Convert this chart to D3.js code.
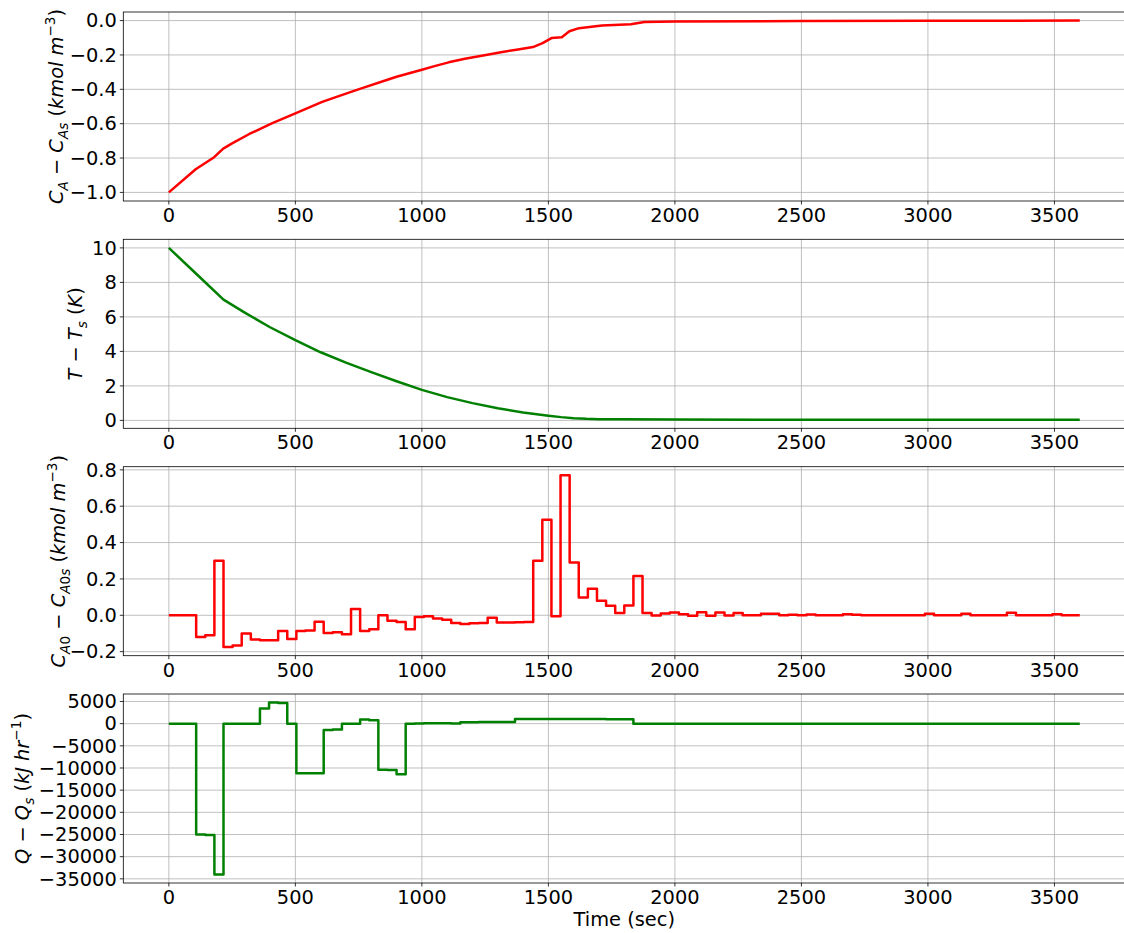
<!DOCTYPE html>
<html>
<head>
<meta charset="utf-8">
<script src="https://cdn.jsdelivr.net/npm/d3@7"></script>
<style>
  body { margin: 0; background: #fff; }
  svg { display: block; font-family: "DejaVu Sans", sans-serif; }
</style>
</head>
<body>
<svg id="chart" width="1124" height="933"></svg>
<script>
// concentration deviation
const caTime = [0, 106, 179, 215, 250, 318, 409, 500, 606, 700, 758, 864, 900, 1000, 1050, 1106, 1170, 1242, 1318, 1380, 1439, 1477, 1512, 1553, 1583, 1621, 1712, 1826, 1879, 2000, 2500, 3000, 3600];
const caValue = [-1.0, -0.865, -0.795, -0.745, -0.715, -0.66, -0.597, -0.54, -0.473, -0.425, -0.396, -0.344, -0.327, -0.286, -0.265, -0.243, -0.222, -0.203, -0.183, -0.168, -0.154, -0.131, -0.102, -0.097, -0.062, -0.044, -0.029, -0.021, -0.008, -0.006, -0.003, -0.001, 0.0];

// temperature deviation
const tTime = [0, 108, 216, 300, 400, 500, 600, 700, 800, 900, 1000, 1100, 1200, 1300, 1400, 1500, 1550, 1600, 1650, 1700, 1800, 2000, 2500, 3600];
const tValue = [10, 8.5, 7.0, 6.25, 5.4, 4.65, 3.95, 3.35, 2.8, 2.27, 1.77, 1.35, 1.0, 0.7, 0.46, 0.27, 0.19, 0.13, 0.09, 0.07, 0.06, 0.05, 0.04, 0.04];

// control moves, one value per 36 s interval
const stepSize = 36;
const endTime = 3600;
const ca0Steps = [
  0, 0, 0, -0.12, -0.11, 0.30, -0.175, -0.166, -0.10, -0.133,
  -0.137, -0.137, -0.087, -0.13, -0.087, -0.083, -0.035, -0.097, -0.093, -0.104,
  0.034, -0.087, -0.077, 0.0, -0.03, -0.037, -0.077, -0.009, -0.005, -0.018,
  -0.024, -0.042, -0.048, -0.044, -0.042, -0.013, -0.04, -0.039, -0.038, -0.037,
  0.30, 0.526, -0.005, 0.77, 0.29, 0.098, 0.146, 0.08, 0.052, 0.012,
  0.054, 0.216, 0.012, -0.001, 0.01, 0.015, 0.006, -0.003, 0.017, -0.003,
  0.015, -0.001, 0.012, 0, 0, 0.008, 0.008, 0, 0.003, 0,
  0.005, 0, 0, 0, 0.006, 0.003, 0, 0, 0, 0,
  0, 0, 0, 0.008, 0, 0, 0, 0.008, 0, 0,
  0, 0, 0.014, 0, 0, 0, 0, 0.006, 0, 0
];
const qSteps = [
  0, 0, 0, -25000, -25100, -34000, 0, 0, 0, 0,
  3400, 4750, 4650, 0, -11200, -11200, -11200, -1450, -1300, 0,
  0, 950, 750, -10400, -10450, -11400, 0, 50, 100, 100,
  100, 50, 300, 300, 350, 350, 350, 400, 1050, 1050,
  1050, 1050, 1050, 1050, 1040, 1040, 1030, 1030, 1020, 1020,
  1010, 0, 0, 0, 0, 0, 0, 0, 0, 0,
  0, 0, 0, 0, 0, 0, 0, 0, 0, 0,
  0, 0, 0, 0, 0, 0, 0, 0, 0, 0,
  0, 0, 0, 0, 0, 0, 0, 0, 0, 0,
  0, 0, 0, 0, 0, 0, 0, 0, 0, 0
];

const xTicks = [0, 500, 1000, 1500, 2000, 2500, 3000, 3500];
const caTicks = [-1.0, -0.8, -0.6, -0.4, -0.2, 0.0];
const tTicks = [0, 2, 4, 6, 8, 10];
const ca0Ticks = [-0.2, 0.0, 0.2, 0.4, 0.6, 0.8];
const qTicks = [-35000, -30000, -25000, -20000, -15000, -10000, -5000, 0, 5000];

const fontSize = 19.4;
const subSize = 13.6;

const svg = d3.select('#chart');

const left = 123.3, right = 1125.3;
const panelHeight = 189;

const xScale = d3.scaleLinear().domain([-180, 3780]).range([left, right]);

function toPoints(times, values) {
  return times.map((t, i) => ({ t, v: values[i] }));
}
function stepPoints(values) {
  const pts = values.map((v, i) => ({ t: i * stepSize, v }));
  pts.push({ t: endTime, v: values[values.length - 1] });
  return pts;
}

function paddedDomain(pts) {
  const [lo, hi] = d3.extent(pts, d => d.v);
  const pad = (hi - lo) * 0.05;
  return [lo - pad, hi + pad];
}

function mathLabel(g, x, y, parts) {
  const t = g.append('text')
    .attr('transform', `translate(${x},${y}) rotate(-90)`)
    .attr('text-anchor', 'middle')
    .attr('font-size', fontSize)
    .attr('fill', '#000');
  let cur = 0;
  parts.forEach(p => {
    const shift = p.sub ? 4.5 : p.sup ? -8 : 0;
    t.append('tspan')
      .text(p.s)
      .attr('font-style', p.i ? 'italic' : 'normal')
      .attr('font-size', (p.sub || p.sup) ? subSize : fontSize)
      .attr('dy', shift - cur);
    cur = shift;
  });
}

function drawPanel(cfg) {
  const top = cfg.top;
  const bottom = top + panelHeight;
  const yScale = d3.scaleLinear().domain(paddedDomain(cfg.points)).range([bottom, top]);
  const g = svg.append('g');

  // gridlines
  g.append('g').selectAll('line').data(xTicks).join('line')
    .attr('x1', d => xScale(d)).attr('x2', d => xScale(d))
    .attr('y1', top).attr('y2', bottom)
    .attr('stroke', '#b0b0b0').attr('stroke-width', 0.8);
  g.append('g').selectAll('line').data(cfg.yTicks).join('line')
    .attr('x1', left).attr('x2', right)
    .attr('y1', d => yScale(d)).attr('y2', d => yScale(d))
    .attr('stroke', '#b0b0b0').attr('stroke-width', 0.8);

  const line = d3.line()
    .x(d => xScale(d.t))
    .y(d => yScale(d.v))
    .curve(cfg.step ? d3.curveStepAfter : d3.curveLinear);

  g.append('path')
    .datum(cfg.points)
    .attr('d', line)
    .attr('fill', 'none')
    .attr('stroke', cfg.color)
    .attr('stroke-width', 2.5)
    .attr('stroke-linejoin', 'round');

  // spines
  g.append('rect')
    .attr('x', left).attr('y', top)
    .attr('width', right - left).attr('height', panelHeight)
    .attr('fill', 'none').attr('stroke', '#000').attr('stroke-width', 0.8);

  // x ticks
  const xt = g.append('g').selectAll('g').data(xTicks).join('g')
    .attr('transform', d => `translate(${xScale(d)},${bottom})`);
  xt.append('line').attr('y2', 3.5).attr('stroke', '#000').attr('stroke-width', 0.8);
  xt.append('text').attr('y', 21).attr('text-anchor', 'middle')
    .attr('font-size', fontSize).text(d => d);

  // y ticks
  const yt = g.append('g').selectAll('g').data(cfg.yTicks).join('g')
    .attr('transform', d => `translate(${left},${yScale(d)})`);
  yt.append('line').attr('x2', -3.5).attr('stroke', '#000').attr('stroke-width', 0.8);
  yt.append('text').attr('x', -6.5).attr('y', 6.8).attr('text-anchor', 'end')
    .attr('font-size', fontSize).text(d => cfg.fmt(d));

  mathLabel(g, cfg.labelX, top + panelHeight / 2, cfg.label);
}

const nb = '\u00a0';
const minus = '\u2212';

drawPanel({
  top: 12, points: toPoints(caTime, caValue), color: '#ff0000', step: false,
  yTicks: caTicks, fmt: d3.format('.1f'), labelX: 63,
  label: [
    { s: 'C', i: true }, { s: 'A', i: true, sub: true },
    { s: nb + minus + nb }, { s: 'C', i: true }, { s: 'As', i: true, sub: true },
    { s: nb + '(' }, { s: 'kmol', i: true }, { s: nb }, { s: 'm', i: true },
    { s: minus + '3', sup: true }, { s: ')' }
  ]
});

drawPanel({
  top: 239.3, points: toPoints(tTime, tValue), color: '#008000', step: false,
  yTicks: tTicks, fmt: d3.format('d'), labelX: 82,
  label: [
    { s: 'T', i: true }, { s: nb + minus + nb }, { s: 'T', i: true },
    { s: 's', i: true, sub: true }, { s: nb + '(' }, { s: 'K', i: true }, { s: ')' }
  ]
});

drawPanel({
  top: 466.7, points: stepPoints(ca0Steps), color: '#ff0000', step: true,
  yTicks: ca0Ticks, fmt: d3.format('.1f'), labelX: 65,
  label: [
    { s: 'C', i: true }, { s: 'A', i: true, sub: true }, { s: '0', sub: true },
    { s: nb + minus + nb }, { s: 'C', i: true }, { s: 'A', i: true, sub: true },
    { s: '0', sub: true }, { s: 's', i: true, sub: true },
    { s: nb + '(' }, { s: 'kmol', i: true }, { s: nb }, { s: 'm', i: true },
    { s: minus + '3', sup: true }, { s: ')' }
  ]
});

drawPanel({
  top: 694, points: stepPoints(qSteps), color: '#008000', step: true,
  yTicks: qTicks, fmt: d3.format('d'), labelX: 29,
  label: [
    { s: 'Q', i: true }, { s: nb + minus + nb }, { s: 'Q', i: true },
    { s: 's', i: true, sub: true }, { s: nb + '(' }, { s: 'kJ', i: true }, { s: nb },
    { s: 'hr', i: true }, { s: minus + '1', sup: true }, { s: ')' }
  ]
});

svg.append('text')
  .attr('x', (left + right) / 2)
  .attr('y', 926)
  .attr('text-anchor', 'middle')
  .attr('font-size', fontSize)
  .text('Time (sec)');
</script>
</body>
</html>
